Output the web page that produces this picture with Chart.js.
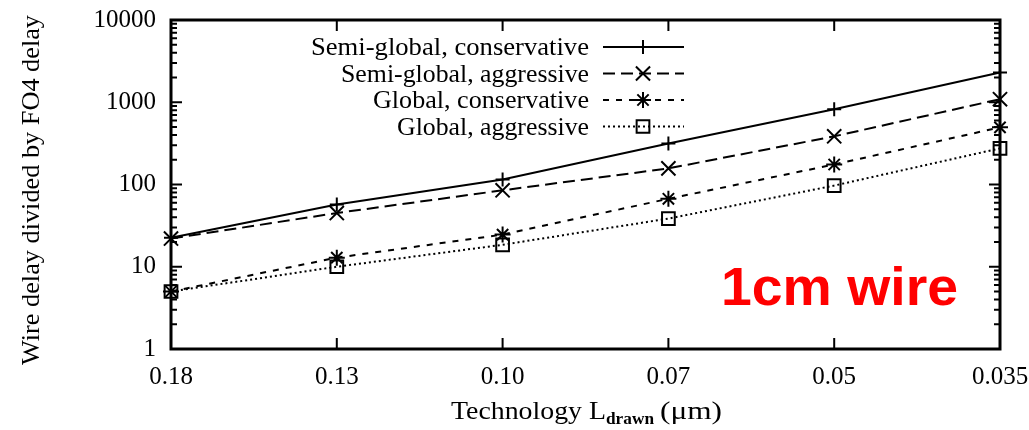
<!DOCTYPE html>
<html>
<head>
<meta charset="utf-8">
<script src="https://cdn.jsdelivr.net/npm/chart.js@4.4.1/dist/chart.umd.min.js"></script>
<style>
  html, body { margin: 0; padding: 0; background: #fff; }
  #wrap { width: 1029px; height: 430px; }
</style>
</head>
<body>
<div id="wrap"><canvas id="wireChart" width="1029" height="430"></canvas></div>
<script>
// Data
const techNodes = ['0.18', '0.13', '0.10', '0.07', '0.05', '0.035'];
const semiGlobalConservative = [22.5, 57, 115, 316, 820, 2300];
const semiGlobalAggressive = [22, 45, 85, 157, 385, 1090];
const globalConservative = [5, 12.9, 24.6, 67, 175, 495];
const globalAggressive = [5, 10, 18.5, 38.5, 97, 275];
const yDecades = [1, 10, 100, 1000, 10000];
const seriesNames = ['Semi-global, conservative', 'Semi-global, aggressive', 'Global, conservative', 'Global, aggressive'];

const serif = "'Liberation Serif', 'DejaVu Serif', serif";

const styles = [
    { dash: [], point: 'cross', radius: 7 },
    { dash: [12, 6], point: 'crossRot', radius: 10 },
    { dash: [6, 7], point: 'star', radius: 8 },
    { dash: [2, 3], point: 'rect', radius: 9 }
];
const seriesData = [semiGlobalConservative, semiGlobalAggressive, globalConservative, globalAggressive];

// text squeezed/stretched horizontally to a target width
function stretchText(ctx, text, x, y, width) {
    const w = ctx.measureText(text).width;
    ctx.save();
    ctx.translate(x, y);
    ctx.scale(width / w, 1);
    ctx.fillText(text, 0, 0);
    ctx.restore();
}

// Draws the frame, inward ticks, legend, titles and annotation
const decorPlugin = {
    id: 'decor',
    afterDraw(chart) {
        const ctx = chart.ctx;
        const area = chart.chartArea;
        const xs = chart.scales.x;
        const ys = chart.scales.y;
        ctx.save();
        ctx.strokeStyle = '#000';
        ctx.lineWidth = 3;
        ctx.setLineDash([]);
        ctx.strokeRect(area.left, area.top, area.right - area.left, area.bottom - area.top);

        // y ticks, major and minor, both sides
        ctx.lineWidth = 2;
        ctx.beginPath();
        yDecades.forEach((d, i) => {
            const y = ys.getPixelForValue(d);
            ctx.moveTo(area.left, y); ctx.lineTo(area.left + 11, y);
            ctx.moveTo(area.right, y); ctx.lineTo(area.right - 11, y);
            if (i < yDecades.length - 1) {
                for (let m = 2; m <= 9; m++) {
                    const ym = ys.getPixelForValue(d * m);
                    ctx.moveTo(area.left, ym); ctx.lineTo(area.left + 6, ym);
                    ctx.moveTo(area.right, ym); ctx.lineTo(area.right - 6, ym);
                }
            }
        });
        // x ticks top and bottom
        techNodes.forEach((t, i) => {
            const x = xs.getPixelForValue(i);
            ctx.moveTo(x, area.top); ctx.lineTo(x, area.top + 11);
            ctx.moveTo(x, area.bottom); ctx.lineTo(x, area.bottom - 11);
        });
        ctx.stroke();

        // legend
        ctx.font = '25px ' + serif;
        ctx.fillStyle = '#000';
        ctx.textAlign = 'left';
        ctx.textBaseline = 'alphabetic';
        const legendWidths = [278, 248, 216, 192];
        seriesNames.forEach((name, i) => {
            const y = 47 + i * 26.5;
            stretchText(ctx, name, 589 - legendWidths[i], y + 8, legendWidths[i]);
            ctx.lineWidth = 2;
            ctx.setLineDash(styles[i].dash);
            ctx.beginPath();
            ctx.moveTo(603, y); ctx.lineTo(684, y);
            ctx.stroke();
            ctx.setLineDash([]);
            drawMarker(ctx, styles[i].point, 643, y, styles[i].radius);
        });

        // x axis title with subscript
        const base = 419;
        ctx.font = '25px ' + serif;
        stretchText(ctx, 'Technology L', 451, base, 155);
        ctx.font = 'bold 17px ' + serif;
        stretchText(ctx, 'drawn', 606, base + 5, 48);
        ctx.font = '25px ' + serif;
        stretchText(ctx, '(\u03bcm)', 660, base, 62);

        // y axis title
        ctx.save();
        ctx.translate(39, 365);
        ctx.rotate(-Math.PI / 2);
        ctx.font = '25px ' + serif;
        stretchText(ctx, 'Wire delay divided by FO4 delay', 0, 0, 350);
        ctx.restore();

        // annotation
        ctx.font = "bold 53px 'Liberation Sans', Arial, sans-serif";
        ctx.fillStyle = '#ff0000';
        stretchText(ctx, '1cm wire', 721, 305, 237);
        ctx.restore();
    }
};

function drawMarker(ctx, type, x, y, r) {
    ctx.save();
    ctx.strokeStyle = '#000';
    ctx.lineWidth = 2;
    ctx.beginPath();
    if (type === 'cross' || type === 'star') {
        ctx.moveTo(x - r, y); ctx.lineTo(x + r, y);
        ctx.moveTo(x, y - r); ctx.lineTo(x, y + r);
    }
    if (type === 'crossRot' || type === 'star') {
        const d = r * 0.707;
        ctx.moveTo(x - d, y - d); ctx.lineTo(x + d, y + d);
        ctx.moveTo(x - d, y + d); ctx.lineTo(x + d, y - d);
    }
    if (type === 'rect') {
        const d = r * 0.707;
        ctx.rect(x - d, y - d, 2 * d, 2 * d);
    }
    ctx.stroke();
    ctx.restore();
}

const datasets = seriesData.map((vals, i) => ({
    label: seriesNames[i],
    data: vals,
    borderColor: '#000',
    backgroundColor: 'rgba(0,0,0,0)',
    borderWidth: 2,
    borderDash: styles[i].dash,
    pointStyle: styles[i].point,
    pointRadius: styles[i].radius,
    pointBorderWidth: 2,
    pointBorderColor: '#000',
    pointBackgroundColor: 'rgba(0,0,0,0)',
    tension: 0,
    clip: false
}));

new Chart(document.getElementById('wireChart'), {
    type: 'line',
    data: { labels: techNodes, datasets: datasets },
    options: {
        responsive: false,
        animation: false,
        layout: { padding: { left: 0, top: 20, right: 29, bottom: 0 } },
        plugins: {
            legend: { display: false },
            tooltip: { enabled: false }
        },
        scales: {
            x: {
                type: 'category',
                offset: false,
                grid: { display: false, drawTicks: false },
                border: { display: false },
                ticks: {
                    color: '#000',
                    font: { family: serif, size: 25 },
                    padding: 13,
                    maxRotation: 0,
                    autoSkip: false
                },
                afterFit(scale) {
                    scale.height = 81;
                    scale.paddingLeft = 0;
                    scale.paddingRight = 0;
                }
            },
            y: {
                type: 'logarithmic',
                min: 1,
                max: 10000,
                grid: { display: false, drawTicks: false },
                border: { display: false },
                afterBuildTicks(scale) {
                    scale.ticks = yDecades.map(v => ({ value: v }));
                },
                ticks: {
                    color: '#000',
                    font: { family: serif, size: 25 },
                    padding: 15,
                    callback: (v) => String(v)
                },
                afterFit(scale) {
                    scale.width = 171;
                    scale.paddingTop = 0;
                    scale.paddingBottom = 0;
                }
            }
        }
    },
    plugins: [decorPlugin]
});
</script>
</body>
</html>
